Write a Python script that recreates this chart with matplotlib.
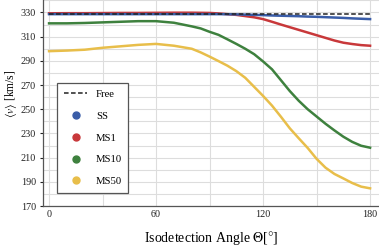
import matplotlib
matplotlib.use("Agg")
import matplotlib.pyplot as plt

plt.rcParams['font.family'] = ['Liberation Serif', 'DejaVu Serif']
plt.rcParams['mathtext.fontset'] = 'stix'

# angles (deg) and mean speeds (km/s)
theta = [0, 10, 20, 30, 40, 50, 60, 70, 80, 85, 90, 95, 100, 105, 110, 115, 120,
         125, 130, 135, 140, 145, 150, 155, 160, 165, 170, 175, 180]
free = [328.7] * len(theta)
ss = [328.6, 328.6, 328.6, 328.6, 328.6, 328.6, 328.6, 328.6, 328.6, 328.6, 328.6, 328.6,
      328.5, 328.4, 328.2, 328.0, 327.8, 327.5, 327.3, 327.1, 326.9, 326.6, 326.4, 326.1,
      325.8, 325.5, 325.1, 324.8, 324.5]
ms1 = [329.3, 329.4, 329.4, 329.5, 329.6, 329.6, 329.7, 329.8, 329.8, 329.7, 329.6, 329.2,
       328.6, 328.0, 327.0, 326.0, 324.5, 322.3, 320.0, 317.8, 315.6, 313.4, 311.2, 309.0,
       306.8, 305.0, 303.9, 303.0, 302.5]
ms10 = [321.0, 321.0, 321.3, 321.8, 322.3, 322.8, 322.8, 321.5, 318.5, 316.8, 314.0, 311.5,
        307.8, 304.0, 300.0, 295.5, 289.5, 283.0, 274.0, 265.0, 257.0, 250.0, 244.0, 238.0,
        232.5, 227.3, 223.0, 219.8, 218.2]
ms50 = [298.0, 298.5, 299.2, 300.8, 302.0, 303.2, 304.0, 302.5, 300.0, 297.0, 293.5, 289.8,
        286.0, 281.5, 276.0, 268.5, 261.0, 253.0, 243.8, 234.2, 226.0, 218.0, 209.0, 201.7,
        196.5, 192.8, 189.0, 186.0, 184.6]

colors = {'SS': '#3a5da8', 'MS1': '#c8383a', 'MS10': '#3e813e', 'MS50': '#e8be4a'}

fig = plt.figure(figsize=(3.79, 2.47), dpi=100)
ax = fig.add_axes([43 / 379, 41 / 247, 336 / 379, 206 / 247])

ax.plot(theta, ms50, color=colors['MS50'], lw=1.8)
ax.plot(theta, ms10, color=colors['MS10'], lw=1.8)
ax.plot(theta, ms1, color=colors['MS1'], lw=1.8)
ax.plot(theta, ss, color=colors['SS'], lw=1.8)
ax.plot(theta, free, color='#222222', lw=1.1, ls=(0, (3, 1.6)))

ax.set_xlim(-3.4, 185)
ax.set_ylim(170, 340.3)
ax.set_xticks([0, 60, 120, 180])
ax.set_xticks(range(0, 181, 30), minor=True)
ax.set_yticks(range(170, 331, 20))
ax.set_yticks(range(170, 341, 10), minor=True)
ax.grid(True, which='both', color='#dddddd', lw=0.8)
ax.set_axisbelow(True)
ax.tick_params(which='both', length=0, labelsize=7.3, pad=3, colors='#222222')
ax.tick_params(axis='y', which='major', length=2)
for s in ['top', 'right']:
    ax.spines[s].set_visible(False)
for s in ['left', 'bottom']:
    ax.spines[s].set_color('#555555')
    ax.spines[s].set_linewidth(0.9)

ax.set_xlabel(r'Isodetection Angle $\Theta$[$\degree$]', fontsize=10, labelpad=7)
ax.set_ylabel(r'$\langle v\rangle$ [km/s]', fontsize=8.3)
ax.yaxis.set_label_coords(-0.07, 0.545)

handles = [plt.Line2D([], [], color='#222222', lw=1.1, ls=(0, (3, 1.6)))]
for k in ['SS', 'MS1', 'MS10', 'MS50']:
    handles.append(plt.Line2D([], [], color=colors[k], marker='o', ms=5, ls='none'))
leg = ax.legend(handles, ['Free', 'SS', 'MS1', 'MS10', 'MS50'], loc='lower left',
                bbox_to_anchor=(0.027, 0.039), fontsize=7.7, fancybox=False,
                framealpha=1, edgecolor='#555555', labelspacing=1.15,
                handlelength=2.2, borderpad=0.6)
leg.get_frame().set_linewidth(0.9)

fig.savefig('out.png', dpi=100)
